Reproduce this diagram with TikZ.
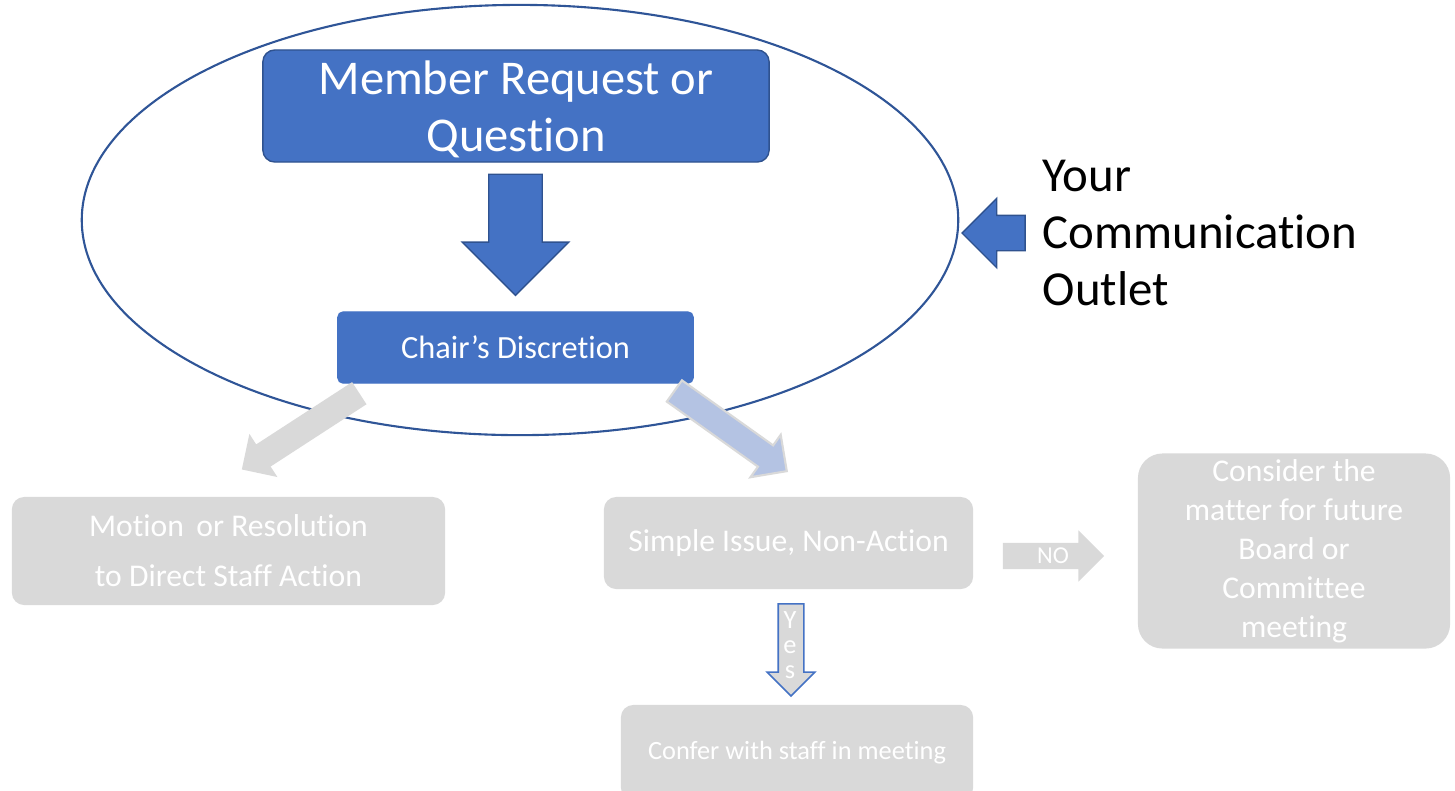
\documentclass[tikz,border=0pt]{standalone}
\usepackage{fontspec}
\setmainfont{Carlito}[Ligatures={NoCommon}]
\usetikzlibrary{shapes.geometric,shapes.arrows,calc}
\definecolor{boxblue}{HTML}{4472C4}
\definecolor{edgeblue}{HTML}{2F528F}
\definecolor{ringblue}{HTML}{2F5597}
\definecolor{boxgray}{HTML}{D9D9D9}
\definecolor{paleblue}{HTML}{B4C3E3}

\begin{document}
\begin{tikzpicture}[x=0.01cm, y=-0.01cm,
  bluebox/.style={fill=boxblue, draw=edgeblue, line width=0.4pt, text=white, align=center, inner sep=0pt},
  graybox/.style={fill=boxgray, text=white, align=center, inner sep=0pt, rounded corners=3.5pt,
    font=\fontsize{9}{14.2}\selectfont},
  blockarrow/.style n args={3}{single arrow, single arrow head indent=0pt, inner xsep=0pt,
    inner ysep=#1/2, single arrow head extend=#2, minimum height=#3, anchor=tip}]
\useasboundingbox (0,0) rectangle (1455,790);
\clip (0,0) rectangle (1455,790);
\node[ellipse, draw=ringblue, line width=0.6pt, inner sep=0pt, minimum width=8.76cm, minimum height=4.3cm] (outlet) at (520,220) {};
\node[bluebox, rounded corners=3.4pt, minimum width=5.06cm, minimum height=1.12cm] (request) at (516,106) {};
\node[text=white, align=center, inner sep=0pt, font=\fontsize{13.8}{16.2}\selectfont] (requesttext) at (516,109) {Member Request or\\Question};
\node[bluebox, draw=boxblue, rounded corners=1.5pt, minimum width=3.55cm, minimum height=0.71cm,
  font=\fontsize{9.2}{11}\selectfont] (chair) at (515.5,347.5) {Chair’s Discretion};
\node[blockarrow={0.52cm}{0.265cm}{1.21cm}, fill=boxblue, draw=edgeblue, line width=0.4pt, rotate=-90]
  (down) at ($(chair.north)+(0,-15)$) {};
\node[blockarrow={0.34cm}{0.17cm}{0.63cm}, fill=boxblue, draw=edgeblue, line width=0.4pt, rotate=180]
  (pointer) at (961,233) {};
\node[anchor=west, align=left, inner sep=0pt, font=\fontsize{13.9}{16.2}\selectfont] (label) at (1042,233) {Your\\Communication\\Outlet};
\node[graybox, minimum width=4.33cm, minimum height=1.08cm] (motion) at (228.5,551) {Motion\, or Resolution\\to Direct Staff Action};
\node[graybox, minimum width=3.69cm, minimum height=0.92cm] (simple) at (788.5,543) {Simple Issue, Non-Action};
\node[graybox, rounded corners=7pt, minimum width=3.12cm, minimum height=1.95cm,
  font=\fontsize{9}{11.1}\selectfont] (future) at (1294,551) {Consider the\\matter for future\\Board or\\Committee\\meeting};
\node[graybox, minimum width=3.52cm, minimum height=0.95cm, font=\fontsize{7.5}{8}\selectfont] (confer) at (797,752.5) {Confer with staff in meeting};
\node[blockarrow={0.25cm}{0.125cm}{1.4cm}, fill=boxgray, rotate=213] (toleft) at (241,470) {};
\node[blockarrow={0.24cm}{0.13cm}{1.38cm}, fill=paleblue, draw=boxgray, line width=0.6pt, rotate=-35.5]
  (toright) at (788,472) {};
\node[blockarrow={0.25cm}{0.125cm}{1.01cm}, fill=boxgray] (no) at (1105,556) {};
\node[text=white, font=\fontsize{6.9}{8}\selectfont] (nolabel) at (1053,556) {NO};
\node[blockarrow={0.24cm}{0.11cm}{0.92cm}, fill=boxgray, draw=boxblue, line width=0.45pt, rotate=-90]
  (yes) at (791,697) {};
\node[text=white, align=center, inner sep=0pt, font=\fontsize{7.5}{7.1}\selectfont] (yeslabel) at (790,645) {Y\\e\\s};
\end{tikzpicture}
\end{document}
